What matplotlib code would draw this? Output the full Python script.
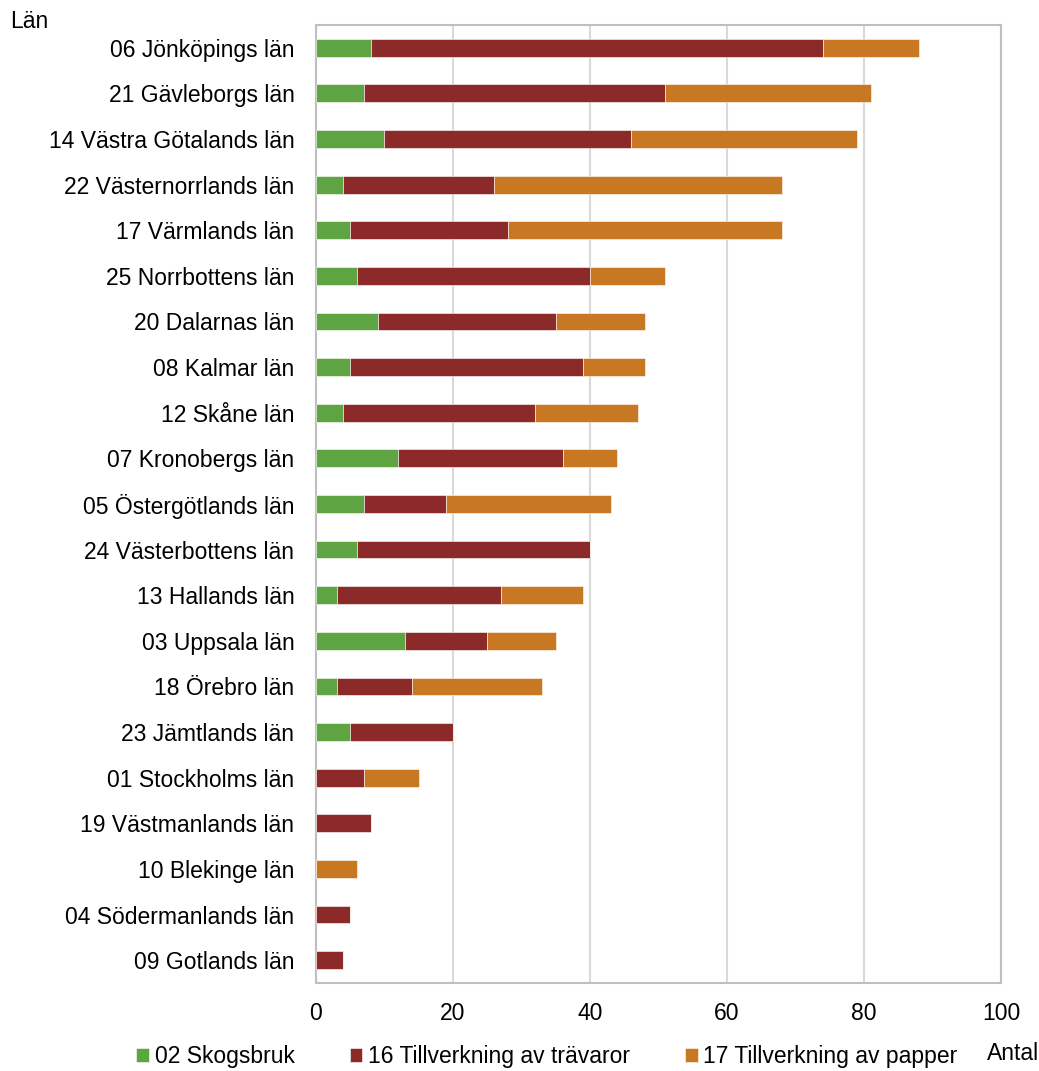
import matplotlib

matplotlib.use("Agg")

import matplotlib.pyplot as plt
import numpy as np

plt.rcParams["font.family"] = ["Liberation Sans", "DejaVu Sans"]

LAN = [
    "06 Jönköpings län",
    "21 Gävleborgs län",
    "14 Västra Götalands län",
    "22 Västernorrlands län",
    "17 Värmlands län",
    "25 Norrbottens län",
    "20 Dalarnas län",
    "08 Kalmar län",
    "12 Skåne län",
    "07 Kronobergs län",
    "05 Östergötlands län",
    "24 Västerbottens län",
    "13 Hallands län",
    "03 Uppsala län",
    "18 Örebro län",
    "23 Jämtlands län",
    "01 Stockholms län",
    "19 Västmanlands län",
    "10 Blekinge län",
    "04 Södermanlands län",
    "09 Gotlands län",
]
skogsbruk = [8, 7, 10, 4, 5, 6, 9, 5, 4, 12, 7, 6, 3, 13, 3, 5, 0, 0, 0, 0, 0]
travaror = [66, 44, 36, 22, 23, 34, 26, 34, 28, 24, 12, 34, 24, 12, 11, 15, 7, 8, 0, 5, 4]
papper = [14, 30, 33, 42, 40, 11, 13, 9, 15, 8, 24, 0, 12, 10, 19, 0, 8, 0, 6, 0, 0]

SERIES = [
    ("02 Skogsbruk", skogsbruk, "#5FA443"),
    ("16 Tillverkning av trävaror", travaror, "#8B2A28"),
    ("17 Tillverkning av papper", papper, "#C87822"),
]
FONT_SIZE = 16.5

fig = plt.figure(figsize=(10.39, 10.71), dpi=100)
ax = fig.add_axes([0.3041, 0.0822, 0.6593, 0.8945])

y = np.arange(len(LAN))
left = np.zeros(len(LAN))
for label, values, color in SERIES:
    values = np.array(values, dtype=float)
    ax.barh(y, values, left=left, height=0.39, color=color, label=label,
            edgecolor="white", linewidth=0.4, zorder=3)
    left += values

ax.set_xlim(0, 100)
ax.set_ylim(len(LAN) - 0.5, -0.5)
ax.set_yticks(y)
ax.set_yticklabels(LAN, fontsize=FONT_SIZE)
ax.set_xticks(np.arange(0, 101, 20))
ax.tick_params(axis="x", labelsize=FONT_SIZE, length=0, pad=14)
ax.tick_params(axis="y", length=0, pad=15.5)
ax.grid(axis="x", color="#D9D9D9", linewidth=1.5, zorder=0)
for spine in ax.spines.values():
    spine.set_color("#BFBFBF")
    spine.set_linewidth(1.5)

fig.text(10 / 1039, 1 - 21 / 1071, "Län", fontsize=FONT_SIZE, va="center", ha="left")
fig.text(987 / 1039, 1 - 1053 / 1071, "Antal", fontsize=FONT_SIZE, va="center", ha="left")

fig.legend(loc="center", bbox_to_anchor=(547 / 1039, 1 - 1057 / 1071), ncol=3,
           frameon=False, fontsize=FONT_SIZE, handlelength=0.55, handleheight=0.55,
           handletextpad=0.25, columnspacing=2.4)

fig.savefig("out.png", dpi=100)
